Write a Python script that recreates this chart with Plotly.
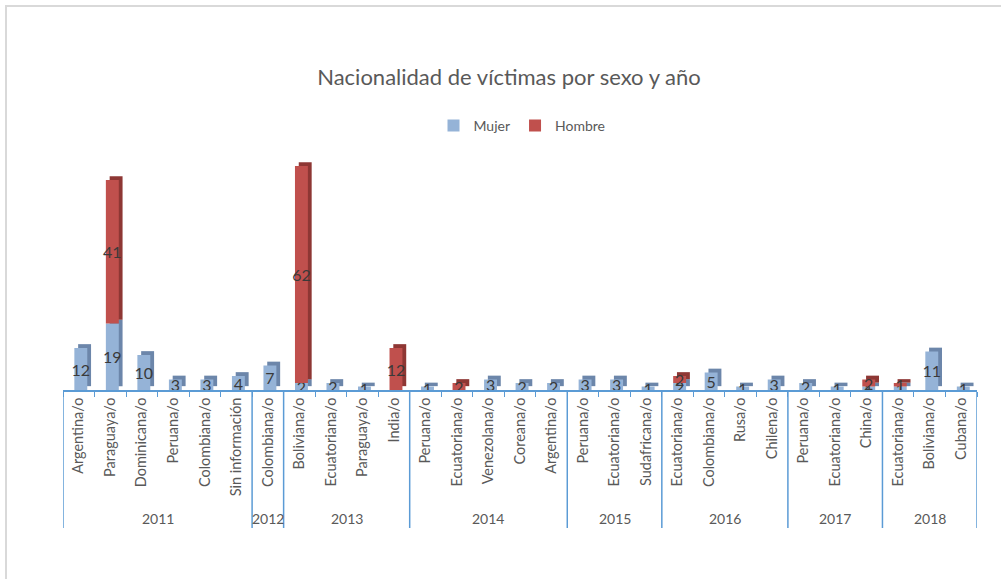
import plotly.graph_objects as go

years = ["2011"] * 6 + ["2012"] + ["2013"] * 4 + ["2014"] * 5 + ["2015"] * 3 + ["2016"] * 4 + ["2017"] * 3 + ["2018"] * 3
nationalities = [
    "Argentina/o", "Paraguaya/o", "Dominicana/o", "Peruana/o", "Colombiana/o", "Sin información",
    "Colombiana/o",
    "Boliviana/o", "Ecuatoriana/o", "Paraguaya/o", "India/o",
    "Peruana/o", "Ecuatoriana/o", "Venezolana/o", "Coreana/o", "Argentina/o",
    "Peruana/o", "Ecuatoriana/o", "Sudafricana/o",
    "Ecuatoriana/o", "Colombiana/o", "Rusa/o", "Chilena/o",
    "Peruana/o", "Ecuatoriana/o", "China/o",
    "Ecuatoriana/o", "Boliviana/o", "Cubana/o",
]
mujer = [12, 19, 10, 3, 3, 4,
         7,
         2, 2, 1, 0,
         1, 0, 3, 2, 2,
         3, 3, 1,
         2, 5, 1, 3,
         2, 1, 1,
         1, 11, 1]
hombre = [0, 41, 0, 0, 0, 0,
          0,
          62, 0, 0, 12,
          0, 2, 0, 0, 0,
          0, 0, 0,
          2, 0, 0, 0,
          0, 0, 2,
          1, 0, 0]

pos = list(range(len(nationalities)))
BLUE = "#95B3D7"
BLUE_SIDE = "#6C86AA"
RED = "#C0504D"
RED_SIDE = "#8E3734"
TXT = "#595959"
AXIS = "#5B9BD5"
FONT = "Lato"

W = 0.41
OFF = -0.14
DX = 0.12
DY = 1.1

# plot-area geometry (pixels) used to place decorations in paper units
PLOT_TOP, PLOT_BOT = 145, 390
PLOT_L, PLOT_W = 63, 914
PH = PLOT_BOT - PLOT_TOP

def labels(vals):
    return [str(v) if v else "" for v in vals]

fig = go.Figure()
fig.add_trace(go.Bar(x=pos, y=mujer, base=[DY] * len(mujer), width=W, offset=OFF + DX,
                     marker=dict(color=BLUE_SIDE, line=dict(width=0)), showlegend=False, hoverinfo="skip"))
fig.add_trace(go.Bar(x=pos, y=hombre, base=[m + DY for m in mujer], width=W, offset=OFF + DX,
                     marker=dict(color=RED_SIDE, line=dict(width=0)), showlegend=False, hoverinfo="skip"))
fig.add_trace(go.Bar(x=pos, y=mujer, base=[0] * len(mujer), width=W, offset=OFF, name="Mujer",
                     marker=dict(color=BLUE, line=dict(width=0)),
                     text=labels(mujer), textposition="inside", insidetextanchor="middle",
                     textfont=dict(color="#3A3A3A", size=16, family=FONT), textangle=0))
fig.add_trace(go.Bar(x=pos, y=hombre, base=mujer, width=W, offset=OFF, name="Hombre",
                     marker=dict(color=RED, line=dict(width=0)),
                     text=labels(hombre), textposition="inside", insidetextanchor="middle",
                     textfont=dict(color="#3A3A3A", size=16, family=FONT), textangle=0))

# year groups: dividers and labels
groups = []
for i, yv in enumerate(years):
    if not groups or groups[-1][0] != yv:
        groups.append([yv, i, i])
    else:
        groups[-1][2] = i

shapes = [dict(type="rect", xref="paper", yref="paper", x0=(6 - PLOT_L) / PLOT_W, x1=1.2, y0=-2,
               y1=(PLOT_BOT - 6) / PH, line=dict(color="#D9D9D9", width=2),
               fillcolor="rgba(0,0,0,0)", layer="below")]
annotations = []
div_y = -(528 - PLOT_BOT) / PH
for yv, a, b in groups:
    shapes.append(dict(type="line", xref="x", yref="paper", x0=a - 0.5, x1=a - 0.5, y0=0, y1=div_y,
                       line=dict(color=AXIS, width=1.5)))
    annotations.append(dict(text=yv, x=(a + b) / 2, xref="x", y=-(518 - PLOT_BOT) / PH, yref="paper",
                            showarrow=False, xanchor="center", yanchor="middle",
                            font=dict(size=14, color=TXT, family=FONT)))
last = groups[-1][2]
shapes.append(dict(type="line", xref="x", yref="paper", x0=last + 0.5, x1=last + 0.5, y0=0, y1=div_y,
                   line=dict(color=AXIS, width=1.5)))

fig.update_layout(
    width=1001, height=579,
    barmode="overlay",
    paper_bgcolor="white", plot_bgcolor="white",
    margin=dict(l=PLOT_L, r=1001 - PLOT_L - PLOT_W, t=PLOT_TOP, b=579 - PLOT_BOT),
    font=dict(family=FONT, color=TXT, size=13),
    title=dict(text="Nacionalidad de víctimas por sexo y año", x=(509 - PLOT_L) / PLOT_W, xref="paper",
               y=1 - 77 / 579, yref="container", xanchor="center", yanchor="middle",
               font=dict(size=22, color=TXT, family=FONT)),
    legend=dict(orientation="h", x=(522 - PLOT_L) / PLOT_W, xanchor="center", y=(PLOT_BOT - 126) / PH,
                yanchor="middle", font=dict(size=14, color=TXT), traceorder="normal"),
    uniformtext=dict(minsize=16, mode="show"),
    showlegend=True,
    shapes=shapes,
    annotations=annotations,
)
fig.update_xaxes(range=[-0.5, len(pos) - 0.5], tickmode="array", tickvals=pos, ticktext=nationalities,
                 tickangle=-90, ticks="", showline=True, linecolor=AXIS, linewidth=1.5,
                 minor=dict(ticks="outside", tick0=-0.5, dtick=1, ticklen=5, tickcolor=AXIS, tickwidth=1),
                 tickfont=dict(size=14.5, color=TXT, family=FONT), showgrid=False, zeroline=False,
                 automargin=False, fixedrange=True)
fig.update_yaxes(range=[0, 70], visible=False, showgrid=False, automargin=False, fixedrange=True)

fig.write_html("out.html", config={"displayModeBar": False},
               post_script="document.body.style.margin='0px';")
